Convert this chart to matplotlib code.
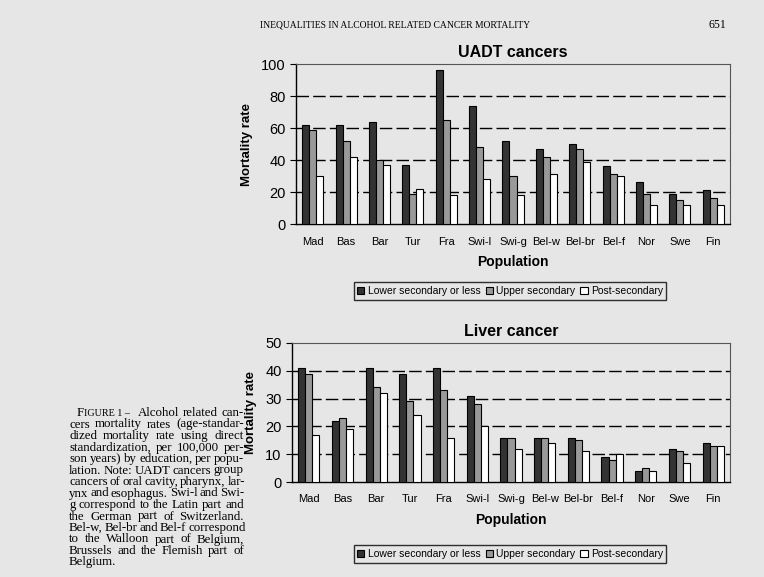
import matplotlib
matplotlib.use("Agg")
import matplotlib.pyplot as plt
import numpy as np

populations = ["Mad", "Bas", "Bar", "Tur", "Fra", "Swi-l", "Swi-g", "Bel-w", "Bel-br", "Bel-f", "Nor", "Swe", "Fin"]
series_names = ["Lower secondary or less", "Upper secondary", "Post-secondary"]

uadt_lower = [62, 62, 64, 37, 96, 74, 52, 47, 50, 36, 26, 19, 21]
uadt_upper = [59, 52, 40, 19, 65, 48, 30, 42, 47, 31, 19, 15, 16]
uadt_post = [30, 42, 37, 22, 18, 28, 18, 31, 39, 30, 12, 12, 12]

liver_lower = [41, 22, 41, 39, 41, 31, 16, 16, 16, 9, 4, 12, 14]
liver_upper = [39, 23, 34, 29, 33, 28, 16, 16, 15, 8, 5, 11, 13]
liver_post = [17, 19, 32, 24, 16, 20, 12, 14, 11, 10, 4, 7, 13]

uadt_yticks = [0, 20, 40, 60, 80, 100]
liver_yticks = [0, 10, 20, 30, 40, 50]

caption_lines = [
    "Alcohol related can-",
    "cers mortality rates (age-standar-",
    "dized mortality rate using direct",
    "standardization, per 100,000 per-",
    "son years) by education, per popu-",
    "lation. Note: UADT cancers group",
    "cancers of oral cavity, pharynx, lar-",
    "ynx and esophagus. Swi-l and Swi-",
    "g correspond to the Latin part and",
    "the German part of Switzerland.",
    "Bel-w, Bel-br and Bel-f correspond",
    "to the Walloon part of Belgium,",
    "Brussels and the Flemish part of",
    "Belgium.",
]

BG = "#e6e6e6"
colors = ["#333333", "#999999", "#ffffff"]
sans = ["Liberation Sans", "DejaVu Sans"]
serif = ["Liberation Serif", "DejaVu Serif"]

fig = plt.figure(figsize=(7.64, 5.77), dpi=100, facecolor=BG)

W, H = 764, 577
def ax_rect(l, r, t, b):
    return [l / W, 1 - b / H, (r - l) / W, (b - t) / H]

def draw(ax, title, data, yticks):
    ax.set_facecolor(BG)
    x = np.arange(len(populations))
    bw = 0.21
    for i, (vals, c) in enumerate(zip(data, colors)):
        ax.bar(x + (i - 1) * bw, vals, width=bw, color=c, edgecolor="black",
               linewidth=0.8, label=series_names[i], zorder=3)
    ax.set_xlim(-0.5, len(populations) - 0.5)
    ax.set_ylim(yticks[0], yticks[-1])
    ax.set_yticks(yticks)
    ax.set_yticklabels([str(v) for v in yticks], fontsize=10.5, family=sans)
    ax.set_xticks(x)
    ax.set_xticklabels(populations, fontsize=8, family=sans)
    for yv in yticks[1:-1]:
        ax.axhline(yv, color="black", lw=1.0, ls=(0, (9, 3)), zorder=1)
    ax.tick_params(axis="x", length=0, pad=9)
    ax.tick_params(axis="y", length=4, direction="out", width=0.8)
    for s in ["top", "right"]:
        ax.spines[s].set_color("#555555")
        ax.spines[s].set_linewidth(0.8)
    ax.spines["bottom"].set_linewidth(1.0)
    ax.spines["left"].set_linewidth(1.0)
    ax.set_title(title, fontsize=11.5, fontweight="bold", family=sans, pad=5)
    ax.set_ylabel("Mortality rate", fontsize=9.5, fontweight="bold", family=sans, labelpad=6)
    ax.set_xlabel("Population", fontsize=10, fontweight="bold", family=sans, labelpad=6)
    return ax

ax1 = fig.add_axes(ax_rect(296, 730, 64, 224))
draw(ax1, "UADT cancers", [uadt_lower, uadt_upper, uadt_post], uadt_yticks)
ax2 = fig.add_axes(ax_rect(292, 730, 343, 482))
draw(ax2, "Liver cancer", [liver_lower, liver_upper, liver_post], liver_yticks)

for ax, cy in [(ax1, 291), (ax2, 554)]:
    h, l = ax.get_legend_handles_labels()
    leg = fig.legend(h, l, loc="center", bbox_to_anchor=(510 / W, 1 - cy / H), ncol=3,
                     frameon=True, fancybox=False, edgecolor="black",
                     facecolor=BG, handlelength=0.7, handleheight=0.7, handletextpad=0.3,
                     columnspacing=0.5, borderpad=0.35, prop={"family": sans, "size": 7.5})
    leg.get_frame().set_linewidth(1.0)

# header
fig.text(260 / W, 1 - 25 / H, "INEQUALITIES IN ALCOHOL RELATED CANCER MORTALITY", fontsize=6.9,
         family=serif, va="center", ha="left")
fig.text(726 / W, 1 - 25 / H, "651", fontsize=8.5, family=serif, va="center", ha="right")

# caption (justified)
renderer = fig.canvas.get_renderer()
FS = 9.3
y0 = 413
dy = 11.5
right_px = 244

def justify(line, left_px, ypx, justify_line=True):
    words = line.split(" ")
    texts = [fig.text(0, 1 - ypx / H, w, fontsize=FS, family=serif, va="center", ha="left") for w in words]
    widths = [t.get_window_extent(renderer).width for t in texts]
    total = sum(widths)
    sp = fig.text(0, 0, "a a", fontsize=FS, family=serif)
    aa = fig.text(0, 0, "aa", fontsize=FS, family=serif)
    natural = sp.get_window_extent(renderer).width - aa.get_window_extent(renderer).width
    sp.remove(); aa.remove()
    if justify_line and len(words) > 1:
        gap = max((right_px - left_px - total) / (len(words) - 1), natural * 0.6)
    else:
        gap = natural
    xp = left_px
    for t, w in zip(texts, widths):
        t.set_x(xp / W)
        xp += w + gap

fig.text(77 / W, 1 - y0 / H, "F", fontsize=FS, family=serif, va="center", ha="left")
fig.text(83.5 / W, 1 - y0 / H, "IGURE 1 \u2013", fontsize=7.3, family=serif, va="center", ha="left")
justify(caption_lines[0], 138, y0)
for i, line in enumerate(caption_lines[1:], start=1):
    justify(line, 69, y0 + i * dy, justify_line=(i < len(caption_lines) - 1))

fig.savefig("out.png", dpi=100, facecolor=BG)
